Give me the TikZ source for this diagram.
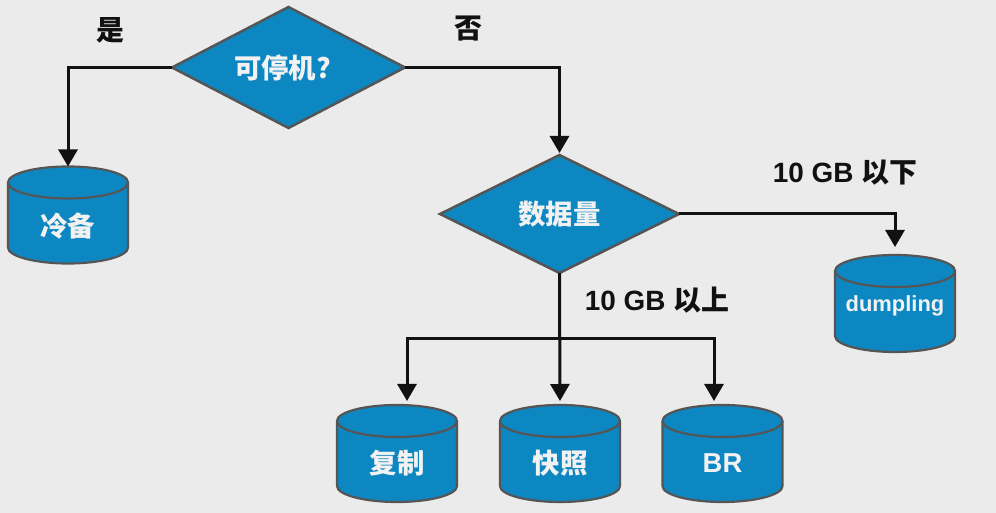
\documentclass[tikz,border=0pt]{standalone}
\usepackage{fontspec}
\setmainfont{Liberation Sans}
\newfontfamily\cjk{Noto Sans CJK SC}
\usetikzlibrary{shapes.geometric,arrows.meta}
\definecolor{bgc}{RGB}{235,235,235}
\definecolor{dbblue}{RGB}{13,135,194}
\definecolor{edge}{RGB}{85,85,85}
\definecolor{ink}{RGB}{17,17,17}
\definecolor{wtext}{RGB}{242,242,242}
\pgfdeclarelayer{bglayer}
\pgfdeclarelayer{cyllayer}
\pgfsetlayers{bglayer,cyllayer,main}
\newcommand\dbdraw[1]{%
  \begin{pgfonlayer}{cyllayer}
  \filldraw[dbshape] ([yshift=-16bp]#1.north west) -- ([yshift=16bp]#1.south west)
    arc[start angle=180,end angle=360,x radius=60bp,y radius=16bp]
    -- ([yshift=-16bp]#1.north east)
    arc[start angle=0,end angle=180,x radius=60bp,y radius=16bp] -- cycle;
  \draw[dbshape,fill=none] ([yshift=-16bp]#1.north west)
    arc[start angle=180,end angle=360,x radius=60bp,y radius=16bp];
  \end{pgfonlayer}}
\begin{document}
\begin{tikzpicture}[x=1bp,y=1bp,
  dbshape/.style={fill=dbblue,draw=edge,line width=2.2bp},
  dbbox/.style={minimum width=120bp,minimum height=97bp,inner sep=0,outer sep=0},
  dbtext/.style={text=wtext,font=\fontsize{27.5}{30}\selectfont\bfseries,inner sep=0},
  decision/.style={diamond,aspect=2,fill=dbblue,draw=edge,line width=2.5bp,inner sep=0,outer sep=0,
    text=wtext,font=\fontsize{27.5}{30}\selectfont\bfseries\cjk},
  lbl/.style={text=ink,font=\fontsize{28}{30}\selectfont\bfseries,inner sep=0},
  conn/.style={draw=ink,line width=3bp},
  arr/.style={conn,-{Triangle[width=19bp,length=17bp]}}]
\begin{pgfonlayer}{bglayer}
\fill[bgc] (0,0) rectangle (996,513);
\end{pgfonlayer}
\useasboundingbox (0,0) rectangle (996,513);

% decisions
\node[decision,minimum width=233bp,minimum height=121bp] (d1) at (288.5,445.5) {可停机?\hspace*{12bp}};
\node[decision,minimum width=239bp,minimum height=118bp] (d2) at (559.5,299) {数据量};

% databases
\node[dbbox,label={[name=lbt,dbtext,yshift=-11bp]center:{\cjk 冷备}}] (lb) at (68,298) {};
\node[dbbox,label={[name=dumpt,dbtext,yshift=-2.5bp,font=\fontsize{22}{26}\selectfont\bfseries]center:dumpling}] (dump) at (895,209.5) {};
\node[dbbox,label={[name=fzt,dbtext,yshift=-10bp]center:{\cjk 复制}}] (fz) at (397,59.5) {};
\node[dbbox,label={[name=kzt,dbtext,yshift=-10bp]center:{\cjk 快照}}] (kz) at (560,59.5) {};
\node[dbbox,label={[name=brt,dbtext,yshift=-10bp]center:BR}] (br) at (722.5,59.5) {};
\dbdraw{lb}\dbdraw{dump}\dbdraw{fz}\dbdraw{kz}\dbdraw{br}

% labels
\node[lbl] (yes) at (110,483) {\cjk 是};
\node[lbl] (no) at (468,484) {\cjk 否};
\node[lbl] (small) at (845,340) {10 GB {\cjk 以下}};
\node[lbl] (large) at (657,213) {10 GB {\cjk 以上}};

% connectors
\draw[arr] (d1.west) -| (lb.north);
\draw[arr,shorten >=2bp] (d1.east) -| (d2.north);
\draw[arr,shorten >=8bp] (d2.east) -| (dump.north);
\coordinate (j) at (d2.south |- 0,174);
\draw[arr,shorten >=4bp] (d2.south) -- (kz.north);
\draw[arr,shorten >=4bp] (j) -| ([xshift=10bp]fz.north);
\draw[arr,shorten >=4bp] (j) -| ([xshift=-8.5bp]br.north);
\end{tikzpicture}
\end{document}
